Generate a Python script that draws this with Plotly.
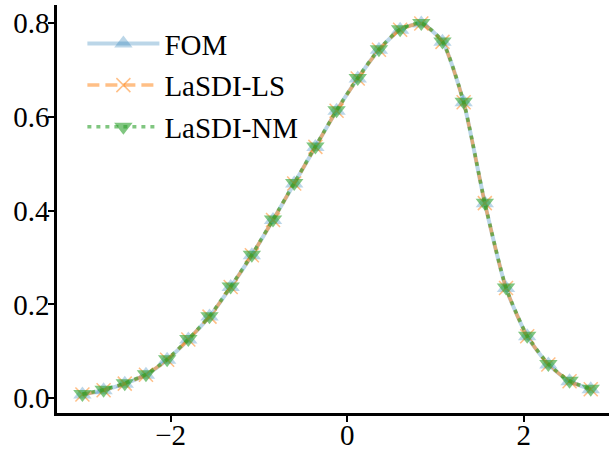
import plotly.graph_objects as go

# sample locations along x
x = [-3.00, -2.76, -2.52, -2.28, -2.04, -1.80, -1.56, -1.32, -1.08, -0.84,
     -0.60, -0.36, -0.12, 0.12, 0.36, 0.60, 0.84, 1.08, 1.32, 1.56,
     1.80, 2.04, 2.28, 2.52, 2.76]

fom = [0.008, 0.017, 0.031, 0.050, 0.082, 0.125, 0.174, 0.237, 0.305, 0.380,
       0.458, 0.536, 0.613, 0.682, 0.743, 0.786, 0.799, 0.760, 0.631, 0.416,
       0.235, 0.132, 0.072, 0.036, 0.019]

lasdi_ls = [0.008, 0.017, 0.031, 0.050, 0.082, 0.125, 0.174, 0.237, 0.305, 0.380,
            0.458, 0.536, 0.613, 0.682, 0.743, 0.786, 0.799, 0.760, 0.631, 0.416,
            0.235, 0.132, 0.072, 0.036, 0.019]

lasdi_nm = [0.009, 0.018, 0.032, 0.051, 0.083, 0.126, 0.175, 0.238, 0.306, 0.381,
            0.459, 0.537, 0.614, 0.683, 0.744, 0.787, 0.800, 0.761, 0.632, 0.417,
            0.236, 0.133, 0.073, 0.037, 0.020]

FONT = "Times New Roman, Liberation Serif, Times, serif"

fig = go.Figure()

fig.add_trace(go.Scatter(
    x=x, y=fom, name="FOM", mode="lines+markers",
    line=dict(color="rgba(31,119,180,0.3)", width=4, shape="spline", smoothing=0.6),
    marker=dict(symbol="triangle-up", size=16, color="rgba(31,119,180,0.3)",
                line=dict(width=0)),
    legendgroup="a",
))

fig.add_trace(go.Scatter(
    x=x, y=lasdi_ls, name="LaSDI-LS", mode="lines+markers",
    line=dict(color="rgba(255,127,14,0.5)", width=3.5, dash="12px,6px",
              shape="spline", smoothing=0.6),
    marker=dict(symbol="x-thin", size=14, color="rgba(255,127,14,0.5)",
                line=dict(width=1.5, color="rgba(255,127,14,0.5)")),
    legendgroup="b",
))

fig.add_trace(go.Scatter(
    x=x, y=lasdi_nm, name="LaSDI-NM", mode="lines+markers",
    line=dict(color="rgba(44,160,44,0.6)", width=3.5, dash="4px,5px",
              shape="spline", smoothing=0.6),
    marker=dict(symbol="triangle-down", size=16, color="rgba(44,160,44,0.6)",
                line=dict(width=0)),
    legendgroup="c",
))

fig.update_layout(
    width=609, height=452,
    margin=dict(l=57, r=0, t=5, b=39),
    plot_bgcolor="white", paper_bgcolor="white",
    font=dict(family=FONT, size=29, color="black"),
    showlegend=True,
    legend=dict(
        x=0.046, y=0.968, xanchor="left", yanchor="top",
        bgcolor="rgba(0,0,0,0)", itemwidth=72, tracegroupgap=1,
        font=dict(family=FONT, size=29),
    ),
    xaxis=dict(
        range=[-3.288, 2.967], tickvals=[-2, 0, 2],
        showgrid=False, zeroline=False, automargin=False,
        showline=True, linecolor="black", linewidth=2.5,
        ticks="outside", ticklen=6, tickwidth=1.5, tickcolor="black",
        ticklabelstandoff=-12,
        tickfont=dict(family=FONT, size=29),
    ),
    yaxis=dict(
        range=[-0.0316, 0.8386], tickvals=[0.0, 0.2, 0.4, 0.6, 0.8],
        tickformat=".1f",
        showgrid=False, zeroline=False, automargin=False,
        showline=True, linecolor="black", linewidth=2.5,
        ticks="outside", ticklen=6, tickwidth=1.5, tickcolor="black",
        ticklabelstandoff=-7,
        tickfont=dict(family=FONT, size=29),
    ),
)

fig.write_html("out.html")
